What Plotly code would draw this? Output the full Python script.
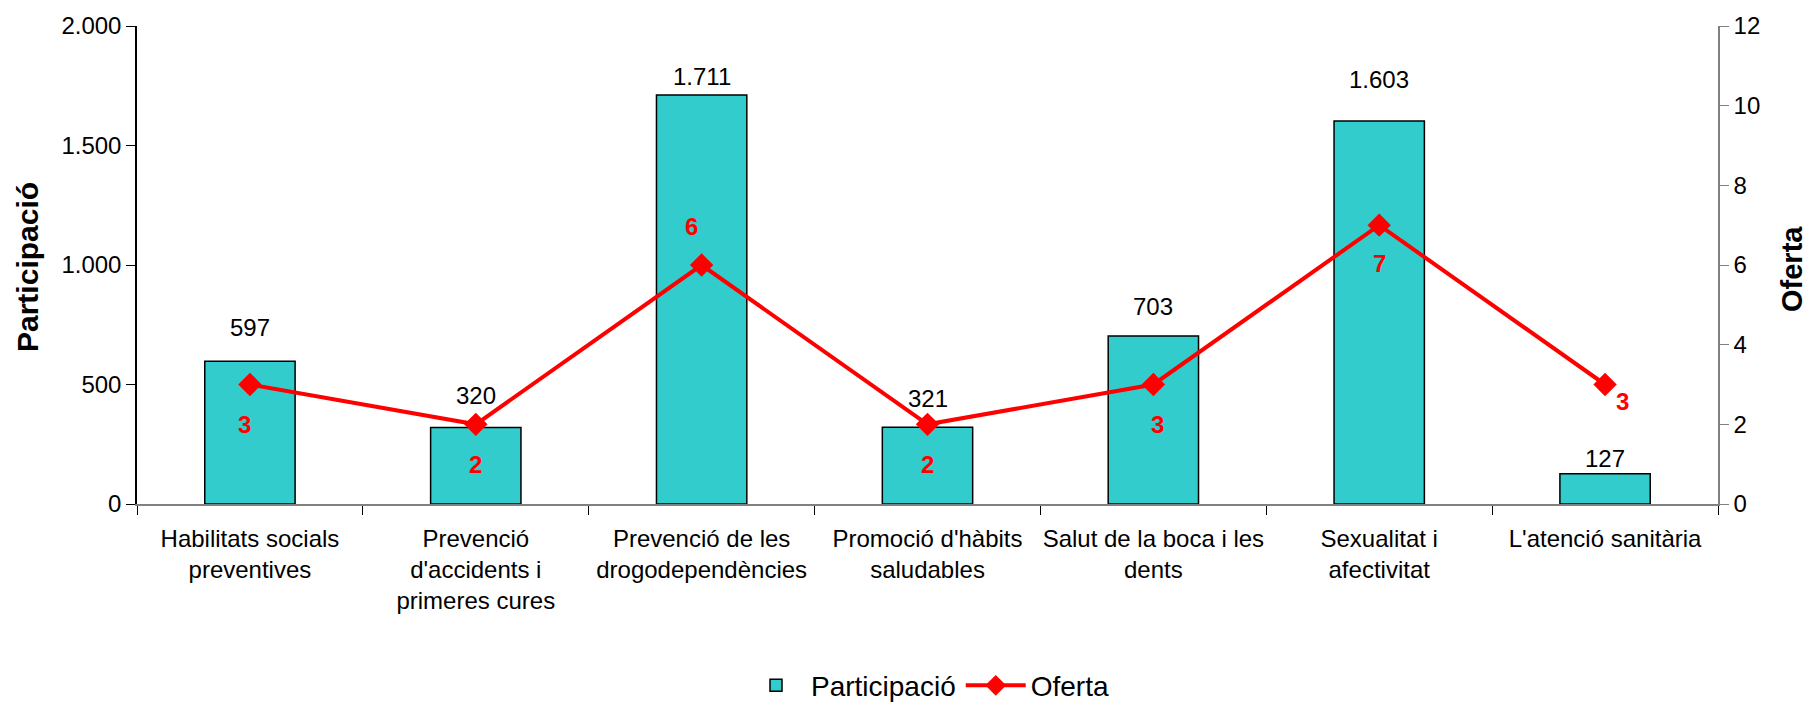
import plotly.graph_objects as go

categories = [
    "Habilitats socials<br>preventives",
    "Prevenció<br>d'accidents i<br>primeres cures",
    "Prevenció de les<br>drogodependències",
    "Promoció d'hàbits<br>saludables",
    "Salut de la boca i les<br>dents",
    "Sexualitat i<br>afectivitat",
    "L'atenció sanitària",
]
participacio = [597, 320, 1711, 321, 703, 1603, 127]
oferta = [3, 2, 6, 2, 3, 7, 3]

# label offsets (style only), in px
bar_label_shift = [34, 32, 19, 29, 29, 41, 15]
line_label_shift = [(-5, -40), (0, -40), (-10, 39), (0, -40), (4, -40), (0, -38), (17, -17)]

FONT = "Liberation Sans, Arial, sans-serif"

fig = go.Figure()
fig.add_trace(go.Bar(
    x=categories, y=participacio, name="Participació",
    marker=dict(color="#33CCCC", line=dict(color="black", width=1.5)),
))
fig.add_trace(go.Scatter(
    x=categories, y=oferta, name="Oferta", yaxis="y2",
    mode="lines+markers",
    line=dict(color="#FF0000", width=4),
    marker=dict(symbol="diamond", size=18, color="#FF0000"),
))

for c, v, dy in zip(categories, participacio, bar_label_shift):
    fig.add_annotation(
        x=c, y=v, yref="y", text=f"{v:,}".replace(",", "."), showarrow=False,
        yanchor="middle", yshift=dy,
        font=dict(size=24, color="black", family=FONT),
    )

for c, v, (dx, dy) in zip(categories, oferta, line_label_shift):
    fig.add_annotation(
        x=c, y=v, yref="y2", text=f"<b>{v}</b>", showarrow=False,
        yanchor="middle", xshift=dx, yshift=dy,
        font=dict(size=24, color="#FF0000", family=FONT),
    )

# axis titles
fig.add_annotation(
    x=0, y=0.5, xref="paper", yref="paper", text="<b>Participació</b>",
    textangle=-90, showarrow=False, xanchor="center", yanchor="middle",
    xshift=-110, yshift=-2, font=dict(size=30, family=FONT, color="black"),
)
fig.add_annotation(
    x=1, y=0.5, xref="paper", yref="paper", text="<b>Oferta</b>",
    textangle=-90, showarrow=False, xanchor="center", yanchor="middle",
    xshift=74, yshift=-4, font=dict(size=29, family=FONT, color="black"),
)

fig.update_layout(
    width=1809, height=704,
    margin=dict(l=137, r=91, t=26, b=200, autoexpand=False),
    paper_bgcolor="white", plot_bgcolor="white",
    separators=",.",
    bargap=0.6,
    font=dict(family=FONT, size=24, color="black"),
    showlegend=True,
    legend=dict(
        orientation="h", x=0.5, xanchor="center", y=-0.38, yanchor="middle",
        font=dict(size=28, family=FONT), traceorder="normal",
        itemwidth=60,
    ),
    xaxis=dict(
        automargin=False, tickangle=0, ticklabelstandoff=12,
        showline=True, linecolor="#808080", linewidth=1.5,
        ticks="outside", ticklen=9, tickcolor="black", tickson="boundaries",
        tickfont=dict(size=24, family=FONT), showgrid=False,
    ),
    yaxis=dict(
        automargin=False,
        range=[0, 2000], dtick=500, tickformat=",",
        showline=True, linecolor="black", linewidth=1.5,
        ticks="outside", ticklen=9, tickcolor="black",
        tickfont=dict(size=24, family=FONT), showgrid=False, zeroline=False,
    ),
    yaxis2=dict(
        automargin=False,
        range=[0, 12], dtick=2, overlaying="y", side="right",
        showline=True, linecolor="#808080", linewidth=1.5,
        ticks="outside", ticklen=9, tickcolor="#808080",
        tickfont=dict(size=24, family=FONT), showgrid=False, zeroline=False,
    ),
)

fig.write_html(
    "out.html",
    config={"displayModeBar": False},
    post_script="document.body.style.margin='0';document.body.style.overflow='hidden';",
)
